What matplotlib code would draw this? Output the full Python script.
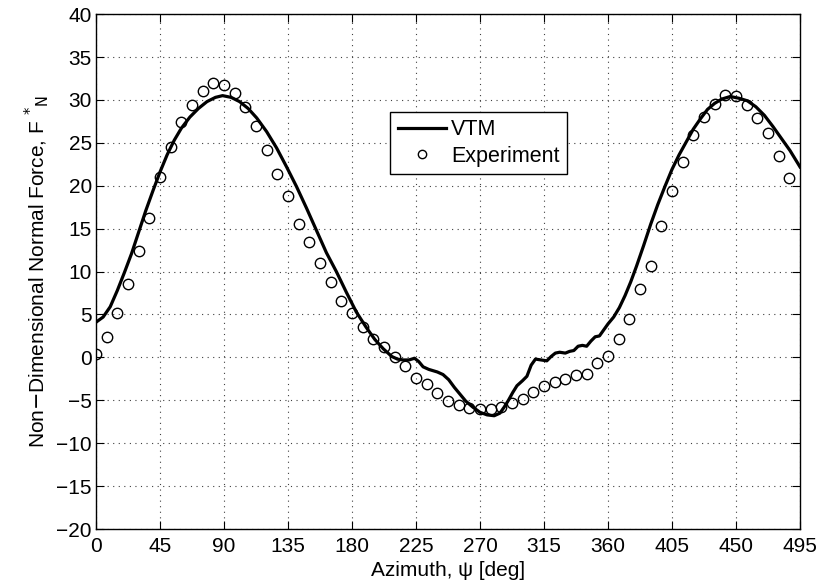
import numpy as np
import matplotlib
matplotlib.use("Agg")
import matplotlib.pyplot as plt

plt.rcParams['font.family'] = ['Liberation Sans', 'DejaVu Sans']

# experiment, every 7.5 deg
exp_psi = np.arange(0, 488, 7.5)
exp_fn = [0.4, 2.4, 5.2, 8.5, 12.4, 16.3, 21.0, 24.5, 27.4, 29.4, 31.0, 32.0,
          31.7, 30.8, 29.2, 27.0, 24.2, 21.4, 18.8, 15.6, 13.5, 11.0, 8.8, 6.6,
          5.2, 3.5, 2.2, 1.2, 0.1, -1.0, -2.4, -3.1, -4.1, -5.1, -5.6, -5.9,
          -6.0, -6.0, -5.8, -5.3, -4.8, -4.0, -3.3, -2.9, -2.5, -2.1, -1.9, -0.6,
          0.15, 2.2, 4.5, 8.0, 10.7, 15.3, 19.4, 22.8, 25.9, 28.0, 29.5, 30.6,
          30.5, 29.4, 27.9, 26.1, 23.5, 20.9]

# VTM prediction
vtm_psi = [0, 5, 10, 15, 20, 25, 30, 35, 40, 45, 50, 55, 60, 66, 72, 78, 84, 89,
           95, 101, 107, 113, 120, 127, 134, 141, 148, 155, 162, 169, 176, 183,
           190, 196, 202, 208, 212, 216, 220, 224, 227, 230, 234, 240, 244, 248,
           252, 256, 260, 265, 270, 275, 280, 284, 287, 290, 293, 296, 300, 303,
           306, 309, 313, 317, 320, 323, 326, 330, 333, 336, 339, 342, 345, 348,
           351, 354, 357, 360, 364, 368, 372, 376, 380, 385, 390, 395, 400, 405,
           410, 415, 420, 425, 430, 435, 440, 446, 452, 458, 464, 470, 476, 482,
           488, 495]
vtm_fn = [4.1, 4.7, 5.9, 7.8, 9.9, 12.1, 14.6, 17.1, 19.4, 21.6, 23.6, 25.3, 26.7,
          28.0, 29.0, 29.8, 30.3, 30.5, 30.3, 29.8, 29.0, 27.9, 26.3, 24.4, 22.2,
          19.9, 17.4, 14.8, 12.2, 10.0, 7.6, 5.3, 3.5, 2.1, 1.0, 0.1, -0.2, -0.3,
          -0.3, -0.1, -0.5, -1.1, -1.4, -1.7, -2.0, -2.6, -3.5, -4.3, -5.1, -5.8,
          -6.4, -6.7, -6.8, -6.5, -5.8, -5.0, -4.1, -3.3, -2.7, -2.2, -0.9, -0.2,
          -0.3, -0.4, 0.1, 0.5, 0.6, 0.5, 0.7, 0.8, 1.3, 1.4, 1.3, 1.9, 2.4, 2.5,
          3.2, 3.9, 4.7, 5.8, 7.2, 8.8, 10.6, 13.0, 15.5, 17.8, 19.9, 21.9, 23.6,
          25.1, 26.6, 27.8, 28.9, 29.6, 30.1, 30.4, 30.2, 29.9, 29.2, 28.2, 26.9,
          25.5, 24.1, 22.2]

xticks = np.arange(0, 496, 45)
yticks = np.arange(-20, 41, 5)

fig = plt.figure(figsize=(8.22, 5.88), dpi=100)
ax = fig.add_axes([0.1168, 0.1003, 0.8564, 0.8757])

ax.plot(vtm_psi, vtm_fn, color='black', lw=2.3, label='VTM')
ax.plot(exp_psi, exp_fn, 'o', mfc='none', mec='black', ms=7.5, mew=1.0,
        label='Experiment')

ax.set_xlim(0, 495)
ax.set_ylim(-20, 40)
ax.set_xticks(xticks)
ax.set_yticks(yticks)
ax.tick_params(direction='in', top=True, right=True, labelsize=15, length=6, width=0.8)
ax.tick_params(axis='x', pad=6)
ax.tick_params(axis='y', pad=3)
ax.grid(True, linestyle=(0, (1, 4)), color='#404040', lw=0.8)
for s in ax.spines.values():
    s.set_linewidth(1.0)

ax.set_xlabel('Azimuth, ψ [deg]', fontsize=15, labelpad=3)
ax.set_ylabel(r'Non$-$Dimensional Normal Force, F $^{*}$$_{\mathrm{N}}$', fontsize=15, labelpad=4)

leg = ax.legend(loc='upper left', bbox_to_anchor=(0.4176, 0.81), fontsize=15.5,
                frameon=True, fancybox=False, edgecolor='black', framealpha=1,
                handlelength=2.25, borderpad=0.35, labelspacing=0.25, handletextpad=0.25,
                borderaxespad=0)
leg.get_frame().set_linewidth(1.0)
for h in leg.legend_handles:
    if h.get_marker() == 'o':
        h.set_markersize(6)

fig.savefig('out.png', dpi=100)
